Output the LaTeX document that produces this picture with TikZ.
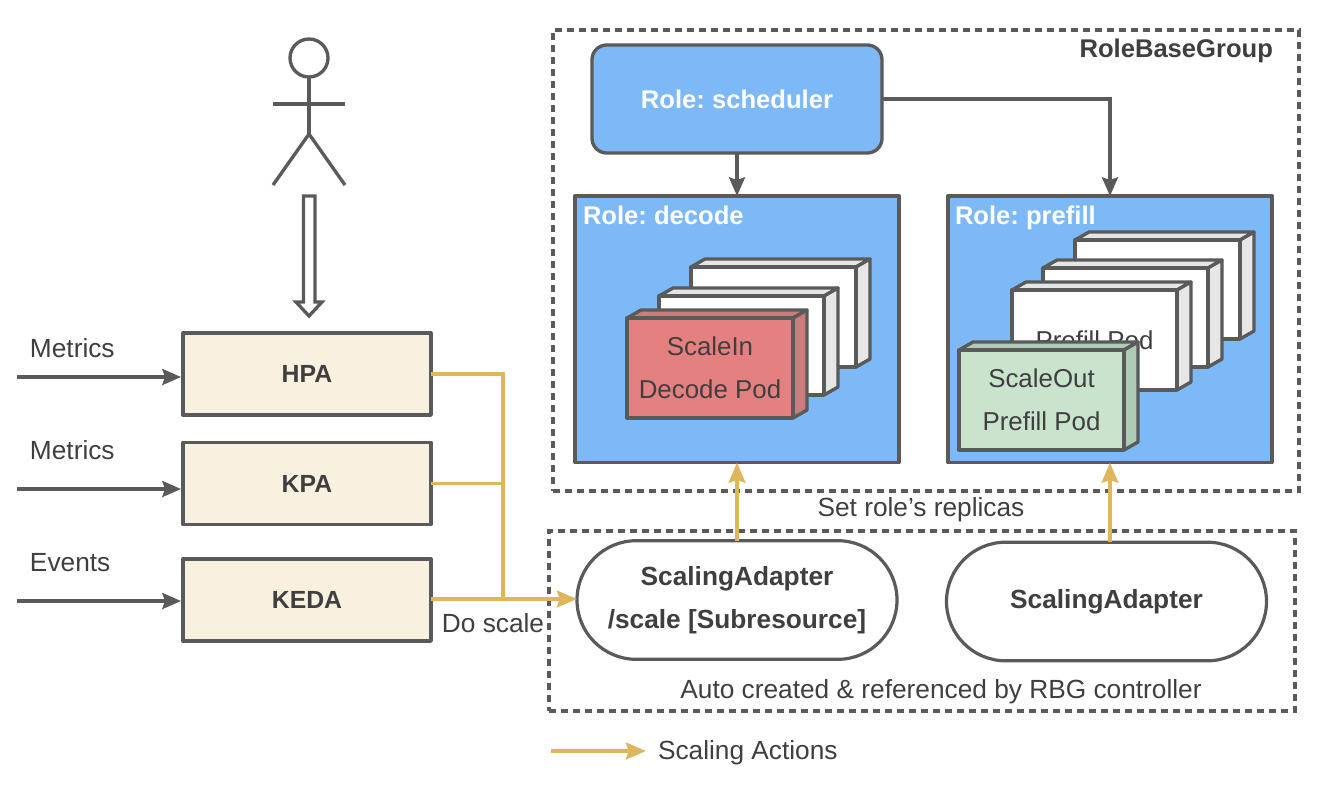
\documentclass[tikz,border=0pt]{standalone}
\usepackage{fontspec}
\setmainfont{Liberation Sans}
\usetikzlibrary{arrows.meta,shapes.misc}
\definecolor{ln}{HTML}{5A5A5A}
\definecolor{tx}{HTML}{3F3F3F}
\definecolor{blu}{HTML}{7DB8F7}
\definecolor{yel}{HTML}{E0B65C}
\definecolor{crm}{HTML}{F9F1E0}
\definecolor{rd}{HTML}{E58080}
\definecolor{rds}{HTML}{CF7A7C}
\definecolor{gr}{HTML}{C9E3CC}
\definecolor{grs}{HTML}{AECBB5}
\definecolor{wsd}{HTML}{E6E6E6}
\newcommand{\regf}{\fontsize{19.7pt}{22pt}\selectfont\frenchspacing}
\newcommand{\bldf}{\fontsize{19.2pt}{22pt}\selectfont\bfseries\frenchspacing}
\tikzset{
  x=0.75pt,y=-0.75pt,
  every node/.style={font=\regf,text=tx,inner sep=0pt,outer sep=0pt},
  ink/.style={draw=ln,line width=2.5pt,line join=round},
  thin ink/.style={draw=ln,line width=2.4pt},
  dashbox/.style={draw=ln,line width=2.4pt,dash pattern=on 5.4pt off 3.6pt},
  rolebox/.style={ink,fill=blu},
  autoscaler/.style={ink,fill=crm,font=\fontsize{18.6pt}{22pt}\selectfont\bfseries},
  pill/.style={draw=ln,line width=2.4pt,fill=white,rounded rectangle,align=center},
  flow/.style={thin ink,-{Stealth[length=14pt,width=12pt,inset=2pt]}},
  act/.style={draw=yel,line width=2.7pt},
  actarrow/.style={act,-{Stealth[length=15pt,width=12.5pt,inset=2pt]}},
  podtext/.style={align=center,font=\fontsize{19.4pt}{32.5pt}\selectfont},
}
% name, x1, y1, x2, y2, front, side, top, text
\newcommand{\podbox}[9]{%
  \pgfmathsetmacro{\pw}{(#4-#2)*0.75}%
  \pgfmathsetmacro{\ph}{(#5-#3)*0.75}%
  \draw[ink,fill=#8] (#2,#3) -- ++(14,-8) -- (#4+14,#3-8) -- (#4,#3) -- cycle;
  \draw[ink,fill=#7] (#4,#3) -- (#4+14,#3-8) -- (#4+14,#5-8) -- (#4,#5) -- cycle;
  \node[ink,fill=#6,anchor=north west,minimum width=\pw pt,minimum height=\ph pt,podtext] (#1) at (#2,#3) {#9};
}
\begin{document}
\begin{tikzpicture}
\useasboundingbox (0,0) rectangle (1322,790);
\fill[white] (0,0) rectangle (1322,790);

% actor
\node[ink,circle,minimum size=28.5pt] (head) at (309,58) {};
\coordinate (hip) at (309,134);
\draw[ink] (head.south) -- (hip);
\coordinate (armL) at (273,104);
\coordinate (armR) at (345,104);
\coordinate (legL) at (273,185);
\coordinate (legR) at (345,185);
\draw[ink] (armL) -- (armR);
\draw[ink] (legL) -- (hip) -- (legR);
\draw[ink,fill=white,line join=miter] (303.5,196) -- (315,196) -- (315,302) -- (322,302) -- (309,316) -- (296,302) -- (303.5,302) -- cycle;

% autoscalers
\node[autoscaler,minimum width=186pt,minimum height=61.5pt] (hpa) at (307,374) {HPA};
\node[autoscaler,minimum width=186pt,minimum height=61.5pt] (kpa) at (307,483.5) {KPA};
\node[autoscaler,minimum width=186pt,minimum height=61.5pt] (keda) at (307,600) {KEDA};

\coordinate (m1) at (17,377);
\coordinate (m2) at (17,489);
\coordinate (m3) at (17,601);
\coordinate (e1) at (181,377);
\coordinate (e2) at (181,489);
\coordinate (e3) at (181,601);
\draw[flow] (m1) -- (e1);
\draw[flow] (m2) -- (e2);
\draw[flow] (m3) -- (e3);
\node[anchor=west] (lm1) at (30,348) {Metrics};
\node[anchor=west] (lm2) at (30,450) {Metrics};
\node[anchor=west] (le1) at (30,563) {Events};

% dashed groups
\node[dashbox,anchor=north west,minimum width=559.5pt,minimum height=345.75pt] (rbg) at (553,30) {};
\node[dashbox,anchor=north west,minimum width=559.5pt,minimum height=135pt] (auto) at (549,531) {};
\node[anchor=east,font=\bldf] (rbgl) at (1273,51) {RoleBaseGroup};

% roles
\node[draw=ln,line width=2.5pt,fill=blu,rounded corners=11pt,minimum width=217.5pt,minimum height=81pt,text=white,font=\bldf] (sched) at (737,99) {Role: scheduler};
\node[rolebox,anchor=north west,minimum width=243pt,minimum height=200pt] (decode) at (575,196) {};
\node[rolebox,anchor=north west,minimum width=243pt,minimum height=200pt] (prefill) at (948,196) {};
\node[anchor=base west,text=white,font=\bldf] (dl) at (583,224) {Role: decode};
\node[anchor=base west,text=white,font=\bldf] (pl) at (955,224) {Role: prefill};

\draw[flow] (sched.south) -- (decode.north);
\draw[flow] (sched.east) -| (prefill.north);

% pods decode
\podbox{d3}{691}{267}{856}{367}{white}{wsd}{wsd}{}
\podbox{d2}{659}{296}{824}{395}{white}{wsd}{wsd}{}
\podbox{d1}{627}{318}{793}{418}{rd}{rds}{rds}{ScaleIn\\Decode Pod}
% pods prefill
\podbox{p4}{1075}{240}{1240}{339}{white}{wsd}{wsd}{}
\podbox{p3}{1043}{268}{1208}{367}{white}{wsd}{wsd}{}
\podbox{p2}{1012}{290}{1177}{390}{white}{wsd}{wsd}{Prefill Pod}
\podbox{p1}{959}{350}{1124}{450}{gr}{grs}{grs}{ScaleOut\\Prefill Pod}

% adapters
\node[pill,minimum width=240pt,minimum height=89pt,font=\fontsize{19.7pt}{32pt}\selectfont\bfseries] (a1) at (737,600) {ScalingAdapter\\/scale [Subresource]};
\node[pill,minimum width=240pt,minimum height=89pt,font=\fontsize{19.7pt}{22pt}\selectfont\bfseries] (a2) at (1106.5,601.5) {ScalingAdapter};

% scaling actions
\coordinate (j) at (503,599);
\draw[act] (hpa.east) -| (j);
\draw[act] (kpa.east) -- (kpa.east -| j);
\draw[actarrow] (keda.east |- j) -- (a1.west |- j);
\draw[actarrow] (a1.north) -- (decode.south);
\draw[actarrow] (prefill.south |- a2.north) -- (prefill.south);

% labels
\node (ds) at (493,623) {Do scale};
\node (sr) at (921,510) {Set role's replicas};
\node (ac) at (941,692) {Auto created \& referenced by RBG controller};
\coordinate (l1) at (551,751);
\coordinate (l2) at (646,751);
\draw[actarrow] (l1) -- (l2);
\node[anchor=west] (lg) at (658,753) {Scaling Actions};
\end{tikzpicture}
\end{document}
